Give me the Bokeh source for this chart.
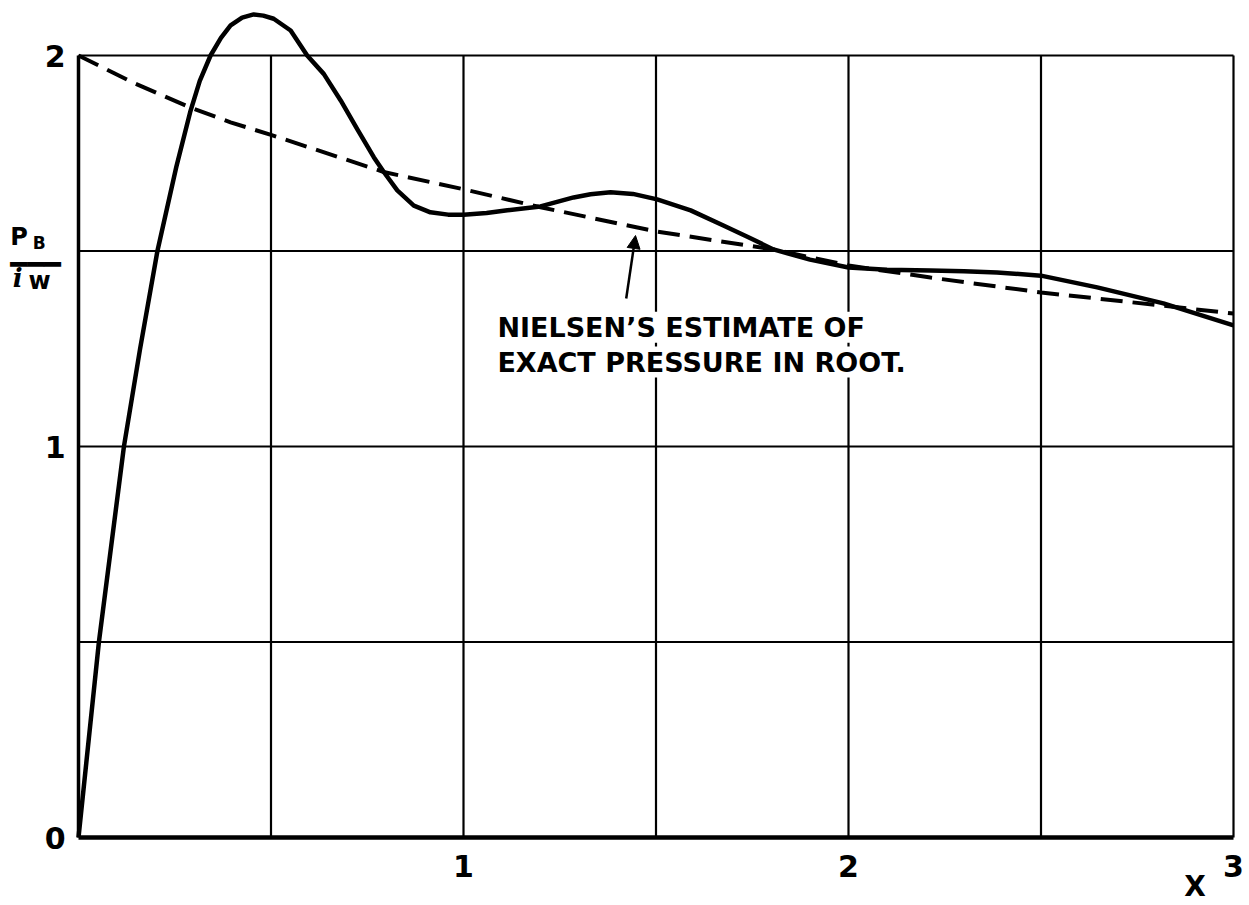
from bokeh.plotting import figure
from bokeh.models import Range1d, FixedTicker, Label, Arrow, NormalHead
from bokeh.embed import file_html
from bokeh.resources import INLINE

# ---- data ----
exact_x = [0, 0.053, 0.118, 0.16, 0.205, 0.254, 0.29, 0.315, 0.343, 0.37,
           0.395, 0.425, 0.455, 0.48, 0.507, 0.551, 0.594, 0.637, 0.681, 0.724,
           0.767, 0.793, 0.828, 0.871, 0.914, 0.96, 1.0, 1.06, 1.114, 1.2,
           1.286, 1.33, 1.382, 1.44, 1.503, 1.59, 1.675, 1.74, 1.805, 1.9,
           2.0, 2.1, 2.213, 2.3, 2.386, 2.5, 2.646, 2.818, 3.0]
exact_y = [0, 0.5, 1.0, 1.25, 1.5, 1.715, 1.855, 1.935, 2.0, 2.045,
           2.077, 2.097, 2.105, 2.102, 2.094, 2.064, 2.0, 1.953, 1.885, 1.812,
           1.740, 1.702, 1.655, 1.616, 1.599, 1.593, 1.593, 1.597, 1.604, 1.614,
           1.637, 1.645, 1.65, 1.646, 1.632, 1.604, 1.565, 1.535, 1.504, 1.478,
           1.458, 1.452, 1.45, 1.448, 1.445, 1.437, 1.407, 1.366, 1.31]

nielsen_x = [0, 0.143, 0.29, 0.395, 0.5, 0.793, 1.0, 1.2, 1.5, 1.805, 2.0, 2.213, 2.5, 2.818, 3.0]
nielsen_y = [2.0, 1.93, 1.867, 1.829, 1.797, 1.702, 1.658, 1.612, 1.55, 1.504, 1.463, 1.432, 1.394, 1.36, 1.34]

x_ticks = [1, 2, 3]
x_tick_labels = ["1", "2", "3"]
y_ticks = [0, 1, 2]
y_tick_labels = ["0", "1", "2"]
x_grid = [0.5, 1.0, 1.5, 2.0, 2.5, 3.0]
y_grid = [0.5, 1.0, 1.5, 2.0]
x_bounds = (0, 3)
y_bounds = (0, 2)

FONT = "DejaVu Sans"

# layout: frame fills the canvas; axes are drawn at x=0 / y=0
W, H = 1245, 903
X0PX, Y0PX, XS, YS = 78, 837, 385.0, 391.0
p = figure(width=W, height=H,
           x_range=Range1d(-X0PX / XS, (W - X0PX) / XS),
           y_range=Range1d(-(H - Y0PX) / YS, Y0PX / YS),
           output_backend="svg", toolbar_location=None, min_border=0)
p.outline_line_color = None
p.background_fill_color = "white"
p.border_fill_color = "white"
p.xgrid.visible = False
p.ygrid.visible = False

# grid lines (limited to the chart box)
p.segment(x0=x_grid, y0=[y_bounds[0]] * len(x_grid),
          x1=x_grid, y1=[y_bounds[1]] * len(x_grid),
          line_color="black", line_width=2.2)
p.segment(x0=[x_bounds[0]] * len(y_grid), y0=y_grid,
          x1=[x_bounds[1]] * len(y_grid), y1=y_grid,
          line_color="black", line_width=2.2)

# axes
for ax, ticks, labels, bnds, lw in ((p.xaxis, x_ticks, x_tick_labels, x_bounds, 4.5),
                                     (p.yaxis, y_ticks, y_tick_labels, y_bounds, 3.5)):
    ax.fixed_location = 0
    ax.ticker = FixedTicker(ticks=ticks)
    ax.major_label_overrides = {t: l for t, l in zip(ticks, labels)}
    ax.bounds = bnds
    ax.axis_line_width = lw
    ax.axis_line_color = "black"
    ax.major_tick_line_color = None
    ax.minor_tick_line_color = None
    ax.major_label_text_font = FONT
    ax.major_label_text_font_style = "bold"
    ax.major_label_text_font_size = "30px"
    ax.major_label_text_color = "black"
p.xaxis.major_label_standoff = 11
p.yaxis.major_label_standoff = 7

# curves
p.line(nielsen_x, nielsen_y, line_color="black", line_width=4, line_dash="22 10")
p.line(exact_x, exact_y, line_color="black", line_width=4.5, line_join="round")

# annotation text
for txt, yy in (("NIELSEN\u2019S ESTIMATE OF", 1.305), ("EXACT PRESSURE IN ROOT.", 1.216)):
    p.add_layout(Label(x=1.088, y=yy, text=txt, text_font=FONT, text_font_style="bold",
                       text_font_size="27px", text_baseline="alphabetic", text_align="left",
                       text_color="black", background_fill_color="white"))

p.add_layout(Arrow(end=NormalHead(size=13, fill_color="black", line_color="black"),
                   x_start=1.4226, y_start=1.3785, x_end=1.4468, y_end=1.5396,
                   line_width=2.5, line_color="black"))

# y-axis label  P_B / i_w
p.add_layout(Label(x=-0.177, y=1.537, text="P", text_font=FONT, text_font_style="bold",
                   text_font_size="24px", text_baseline="alphabetic", text_align="left",
                   text_color="black"))
p.add_layout(Label(x=-0.119, y=1.521, text="B", text_font=FONT, text_font_style="bold",
                   text_font_size="17px", text_baseline="alphabetic", text_align="left",
                   text_color="black"))
p.add_layout(Label(x=-0.177, y=1.465, text="\u2501\u2501\u2501", text_font=FONT,
                   text_font_size="28px", text_baseline="middle", text_align="left",
                   text_color="black"))
p.add_layout(Label(x=-0.171, y=1.432, text="i", text_font="DejaVu Serif", text_font_style="bold italic",
                   text_font_size="26px", text_baseline="alphabetic", text_align="left",
                   text_color="black"))
p.add_layout(Label(x=-0.13, y=1.422, text="w", text_font=FONT, text_font_style="bold",
                   text_font_size="24px", text_baseline="alphabetic", text_align="left",
                   text_color="black"))

# x-axis label
p.add_layout(Label(x=2.9, y=-0.125, text="X", text_font=FONT, text_font_style="bold",
                   text_font_size="28px", text_baseline="middle", text_align="center",
                   text_color="black"))

open("out.html", "w").write(file_html(p, INLINE))
